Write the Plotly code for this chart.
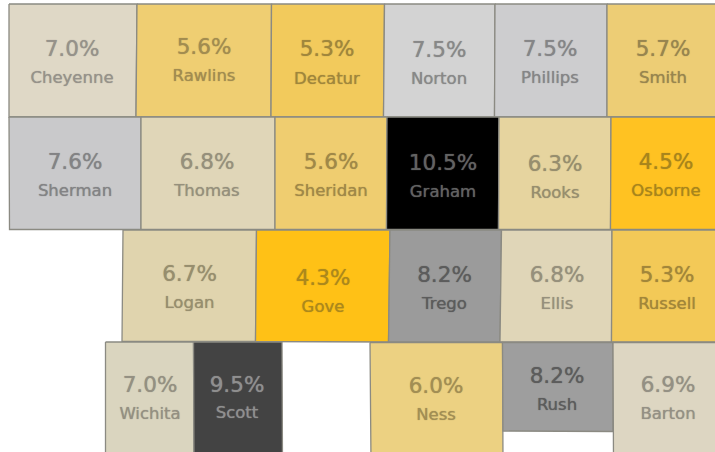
import plotly.graph_objects as go

# Data
counties = ["Cheyenne","Rawlins","Decatur","Norton","Phillips","Smith",
            "Sherman","Thomas","Sheridan","Graham","Rooks","Osborne",
            "Logan","Gove","Trego","Ellis","Russell",
            "Wichita","Scott","Ness","Rush","Barton"]
rates = [7.0,5.6,5.3,7.5,7.5,5.7,
         7.6,6.8,5.6,10.5,6.3,4.5,
         6.7,4.3,8.2,6.8,5.3,
         7.0,9.5,6.0,8.2,6.9]

# Map geometry: tile outlines (top-left, top-right, bottom-right, bottom-left)
outlines = [
    [(9,4),(137,4),(136,117),(9,117)],
    [(137,4),(271.5,4),(271,117),(136,117)],
    [(271.5,4),(384.5,4),(383.5,117),(271,117)],
    [(384.5,4),(495,4),(494.5,117),(383.5,117)],
    [(495,4),(607,4),(607,117),(494.5,117)],
    [(607,4),(725,4),(725,117),(607,117)],
    [(9,117),(141,117),(141,229.5),(9.5,229.5)],
    [(141,117),(275,117),(275,229.5),(141,229.5)],
    [(275,117),(387,117),(386.5,229.5),(275,229.5)],
    [(387,117),(499,117),(498.5,229.5),(386.5,229.5)],
    [(499,117),(611,117),(610.5,229.5),(498.5,229.5)],
    [(611,117),(725,117),(725,229.5),(610.5,229.5)],
    [(123,230),(256.5,230),(255.5,341.5),(122,341.5)],
    [(256.5,230),(390,230),(388.5,342),(255.5,341.5)],
    [(390,230),(501.5,230),(500,342),(388.5,342)],
    [(501.5,230),(612,230),(611.5,342),(500,342)],
    [(612,230),(725,230),(725,342),(611.5,342)],
    [(105.5,342),(193.5,342),(194,462),(105.5,462)],
    [(193.5,342),(282,342),(282.5,462),(194,462)],
    [(370,342.5),(502.5,342.5),(503,462),(371,462)],
    [(502.5,342.5),(613,342.5),(613,431.5),(503,431)],
    [(613,342.5),(725,342.5),(725,462),(613.5,462)],
]
label_x = [72,204,327,439,550,663,
           75,207,331,443,555,666,
           189.5,323,444.5,557,667,
           150,237,436,557,668]
pct_y = [50.5,48.5,51,51.5,50.5,50.5,
         163.5,163.5,163.5,164.5,165.5,163.5,
         275.5,280,276.5,276.5,276.5,
         386.5,386.5,387.5,377.5,386.5]
name_y = [79,77,80,80,79,79,
          192,192,192,193,194,192,
          304,308,305,305,305,
          415,414,416,406,415]

# Styles
fills = ["#DFD8C6","#EFCE72","#F2CA5C","#D3D3D3","#CDCDCF","#EDCD75",
         "#C9C9CB","#E0D6B8","#EFCD70","#000000","#E6D49F","#FFC222",
         "#E0D4AE","#FFC116","#9B9B9B","#E0D6B8","#F3C957",
         "#DAD5BF","#434343","#ECD182","#9E9E9E","#DDD6C2"]
inks = ["#96928A","#A28C50","#A0863C","#888888","#858587","#98854F",
        "#838385","#96907C","#A08848","#626262","#978E6E","#A8851C",
        "#978E6E","#AC881C","#5C5C5C","#96907C","#A2863A",
        "#949082","#8F8F8F","#A28E54","#5C5C5C","#949084"]
EDGE = "#8B8A82"
FONT = "DejaVu Sans"
shadows = [f"0 0 1px {c}" for c in inks]

fig = go.Figure()
for name, outline, fill in zip(counties, outlines, fills):
    xs = [p[0] for p in outline] + [outline[0][0]]
    ys = [p[1] for p in outline] + [outline[0][1]]
    fig.add_trace(go.Scatter(x=xs, y=ys, mode="lines", fill="toself", fillcolor=fill,
                             line=dict(color=EDGE, width=1.3), name=name,
                             hoverinfo="skip", showlegend=False))

fig.add_trace(go.Scatter(x=label_x, y=pct_y, mode="text",
                         text=[f"{r:.1f}%" for r in rates],
                         textposition="middle center",
                         textfont=dict(family=FONT, size=21.5, color=inks, shadow=shadows),
                         showlegend=False, hoverinfo="skip"))
fig.add_trace(go.Scatter(x=label_x, y=name_y, mode="text",
                         text=counties,
                         textposition="middle center",
                         textfont=dict(family=FONT, size=16.5, color=inks, shadow=shadows),
                         showlegend=False, hoverinfo="skip"))

fig.update_layout(width=715, height=452, margin=dict(l=0, r=0, t=0, b=0),
                  paper_bgcolor="white", plot_bgcolor="white",
                  xaxis=dict(range=[0, 715], visible=False, fixedrange=True),
                  yaxis=dict(range=[452, 0], visible=False, fixedrange=True))

fig.write_html("out.html", config={"displayModeBar": False},
               post_script="document.body.style.margin='0';document.body.style.overflow='hidden';")
